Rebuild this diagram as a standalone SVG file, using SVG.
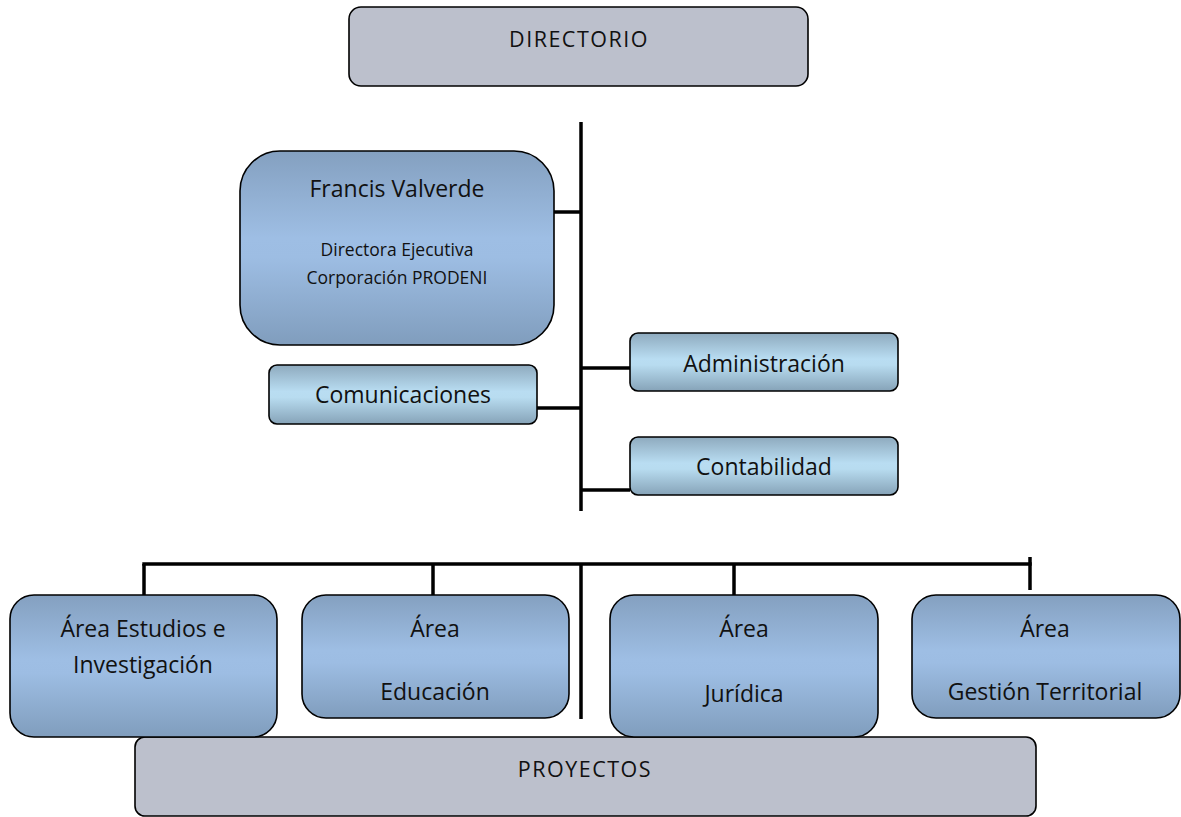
<svg xmlns="http://www.w3.org/2000/svg" width="1181" height="817" viewBox="0 0 1181 817">
<defs>
<linearGradient id="gBlue" x1="0" y1="0" x2="0" y2="1">
<stop offset="0" stop-color="#84a0c0"/>
<stop offset="0.45" stop-color="#9ebee4"/>
<stop offset="0.55" stop-color="#9dbde3"/>
<stop offset="1" stop-color="#809dbd"/>
</linearGradient>
<linearGradient id="gLight" x1="0" y1="0" x2="0" y2="1">
<stop offset="0" stop-color="#8eaabe"/>
<stop offset="0.45" stop-color="#b9ddf2"/>
<stop offset="0.55" stop-color="#b8dcf0"/>
<stop offset="1" stop-color="#86a3b8"/>
</linearGradient>
</defs>
<style>
.grey{fill:#bcc0cc;stroke:#000;stroke-width:1.6}
.blue{fill:url(#gBlue);stroke:#000;stroke-width:1.6}
.light{fill:url(#gLight);stroke:#000;stroke-width:1.6}
text{font-family:"Open Sans","Noto Sans",sans-serif;fill:#111;text-anchor:middle}
.caps{font-size:21.5px;letter-spacing:1.5px}
.t22{font-size:23px}
.t15{font-size:17.5px}
.conn line{stroke:#000;stroke-width:3.5;fill:none}
</style>
<rect width="1181" height="817" fill="#fff"/>
<g class="conn">
<line x1="581" y1="122" x2="581" y2="511"/>
<line x1="553" y1="212" x2="581" y2="212"/>
<line x1="536" y1="408" x2="581" y2="408"/>
<line x1="581" y1="368" x2="630" y2="368"/>
<line x1="581" y1="490" x2="630" y2="490"/>
<line x1="142.3" y1="564" x2="1031.7" y2="564"/>
<line x1="144" y1="564" x2="144" y2="595"/>
<line x1="433" y1="564" x2="433" y2="595"/>
<line x1="581" y1="564" x2="581" y2="719"/>
<line x1="734" y1="564" x2="734" y2="597"/>
<line x1="1030" y1="557" x2="1030" y2="590"/>
</g>
<g id="directorio">
<rect class="grey" x="349" y="7" width="459" height="79" rx="12"/>
<text class="caps" x="579" y="47">DIRECTORIO</text>
</g>
<g id="francis">
<rect class="blue" x="240" y="151" width="314" height="194" rx="40"/>
<text class="t22" x="397" y="197">Francis Valverde</text>
<text class="t15" x="397" y="256">Directora Ejecutiva</text>
<text class="t15" x="397" y="284">Corporación PRODENI</text>
</g>
<g id="comunicaciones">
<rect class="light" x="269" y="365" width="268" height="59" rx="8"/>
<text class="t22" x="403" y="403">Comunicaciones</text>
</g>
<g id="administracion">
<rect class="light" x="630" y="333" width="268" height="58" rx="8"/>
<text class="t22" x="764" y="372">Administración</text>
</g>
<g id="contabilidad">
<rect class="light" x="630" y="437" width="268" height="58" rx="8"/>
<text class="t22" x="764" y="475">Contabilidad</text>
</g>
<g id="proyectos">
<rect class="grey" x="135" y="737" width="901" height="79" rx="10"/>
<text class="caps" x="585" y="777">PROYECTOS</text>
</g>
<g id="estudios">
<rect class="blue" x="10" y="595" width="267" height="142" rx="24"/>
<text class="t22" x="143" y="637">Área Estudios e</text>
<text class="t22" x="143" y="673">Investigación</text>
</g>
<g id="educacion">
<rect class="blue" x="302" y="595" width="267" height="123" rx="24"/>
<text class="t22" x="435" y="637">Área</text>
<text class="t22" x="435" y="700">Educación</text>
</g>
<g id="juridica">
<rect class="blue" x="610" y="595" width="268" height="142" rx="24"/>
<text class="t22" x="744" y="637">Área</text>
<text class="t22" x="744" y="702">Jurídica</text>
</g>
<g id="gestion">
<rect class="blue" x="912" y="595" width="268" height="123" rx="24"/>
<text class="t22" x="1045" y="637">Área</text>
<text class="t22" x="1045" y="700">Gestión Territorial</text>
</g>
</svg>
